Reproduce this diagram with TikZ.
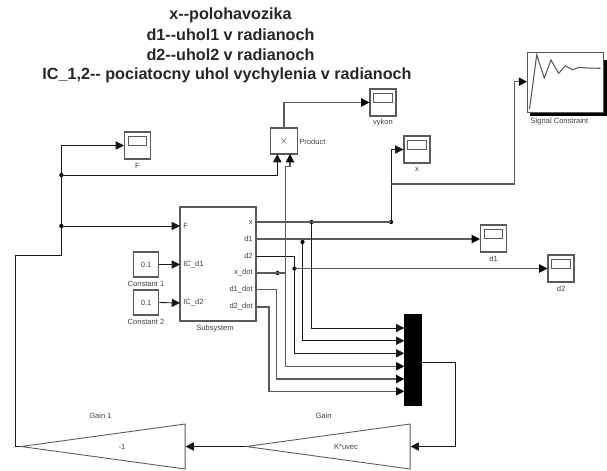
\documentclass[tikz,border=0pt]{standalone}
\usepackage{fontspec}
\setmainfont{Liberation Sans}
\usetikzlibrary{arrows.meta,shapes.geometric,positioning,calc}
\definecolor{simgray}{RGB}{90,90,90}

\begin{document}
\begin{tikzpicture}[
  x=0.02cm, y=-0.02cm,
  every node/.style={font=\fontsize{4.3}{5}\selectfont, text=black!75, inner sep=0pt},
  titletext/.style={font=\fontsize{9.2}{10}\selectfont\bfseries, text=black!85},
  blockbox/.style={draw=simgray, line width=0.6pt, fill=white},
  scopebox/.style={blockbox, minimum width=0.52cm, minimum height=0.54cm},
  screenbox/.style={draw=simgray, line width=0.5pt, minimum width=0.37cm, minimum height=0.19cm},
  wire/.style={draw=black!90, line width=0.5pt, -{Triangle[length=4.7pt,width=4.7pt]}},
  greyline/.style={draw=simgray, line width=0.6pt},
  greywire/.style={greyline, -{Triangle[length=4.7pt,width=4.7pt,fill=black,color=black]}},
  dotnode/.style={circle, fill=black, minimum size=2.4pt},
  gainbox/.style={draw=simgray, line width=0.5pt, isosceles triangle, isosceles triangle stretches,
                  shape border rotate=180, minimum width=0.9cm, minimum height=3.28cm, anchor=apex},
]
\useasboundingbox (0,0) rectangle (607,470);

%% Title lines
\foreach \xi/\yi/\lab/\nm in {230.5/15/x-{}-polohavozika/ta, 230.5/35/d1-{}-uhol1 v radianoch/tb, 230.5/55/d2-{}-uhol2 v radianoch/tc, 227/75/{IC\_1,2-{}- pociatocny uhol vychylenia v radianoch}/td}{
  \node[titletext] (\nm) at (\xi, \yi) {\lab};
}

%% Scopes: name/x/y
\foreach \nm/\xi/\yi in {F/137.5/145.5, vykon/383/102.5, x/417/149.5, d1/493.5/238.5, d2/561/268.5}{
  \node[scopebox] (sc\nm) at (\xi, \yi) {};
  \node[screenbox] (scr\nm) at (\xi, \yi-4.5) {};
  \node (lab\nm) at (\xi, \yi+20) {\nm};
}

%% Signal Constraint block with shadow
\fill[black] (530,60) rectangle (607,116);
\node[blockbox, anchor=north west, minimum width=1.52cm, minimum height=1.2cm] (sig) at (527,52) {};
\draw[simgray, line width=0.6pt] (529.5,109) -- (536.7,55) -- (544.3,78) -- (551,60) -- (558.7,73.3)
  -- (565.3,65.7) -- (572.3,69.7) -- (579.3,67.3) -- (586.7,68) -- (600.7,68.3);
\node (labsig) at (559.5, 122) {Signal Constraint};

%% Product
\node[blockbox, minimum width=0.53cm, minimum height=0.52cm] (prod) at (284,141) {$\times$};
\node[anchor=west] (labprod) at (299, 142) {Product};
\coordinate (prodl) at (277.3,154);
\coordinate (prodr) at (290,154);

%% Subsystem and its ports
\node[blockbox, minimum width=1.52cm, minimum height=2.28cm] (sub) at (218,264) {};
\node (labsub) at (215, 329) {Subsystem};
\foreach \nm/\yi/\lab in {pF/226/F, pa/264.5/IC\_d1, pb/303/IC\_d2}{
  \coordinate (\nm) at (180, \yi);
  \node[anchor=west] (lab\nm) at (183, \yi) {\lab};
}
\foreach \nm/\yi/\lab in {ox/222/x, oa/239/d1, ob/256/d2, oc/273/x\_dot, od/289.5/d1\_dot, oe/307/d2\_dot}{
  \coordinate (\nm) at (256, \yi);
  \node[anchor=east] (lab\nm) at (253, \yi) {\lab};
}

%% Constants
\node[blockbox, minimum width=0.51cm, minimum height=0.5cm] (conA) at (146,264.5) {0.1};
\node (labconA) at (146, 284) {Constant 1};
\node[blockbox, minimum width=0.51cm, minimum height=0.5cm] (conB) at (146,302.5) {0.1};
\node (labconB) at (146, 322) {Constant 2};

%% Mux
\node[fill=black, minimum width=0.35cm, minimum height=1.83cm] (mux) at (413,360) {};
\foreach \nm/\yi in {ma/328, mb/340.7, mc/353.3, md/366.3, me/379, mf/391.3}{
  \coordinate (\nm) at (404.3, \yi);
}

%% Gains
\node[gainbox] (gain) at (245,446.5) {};
\node (labgain) at (323.5, 416) {Gain};
\node (txtgain) at (346, 447) {K*uvec};
\node[gainbox] (gaina) at (20,446.5) {};
\node (labgaina) at (100.5, 416) {Gain 1};
\node (txtgaina) at (122, 447) {-1};

%% Junctions
\node[dotnode] (jF) at (61.3,226) {};
\node[dotnode] (jP) at (61.3,175) {};
\node[dotnode] (jx) at (311.5,222) {};
\node[dotnode] (jX) at (391,222) {};
\node[dotnode] (ja) at (302.5,242) {};
\node[dotnode] (jb) at (294.5,268.5) {};
\node[dotnode] (jc) at (277.5,273) {};

\coordinate (up) at (285.7,273);
\coordinate (sA) at (391,184);
\coordinate (sB) at (514.5,184);
\coordinate (sC) at (527,81.7);
\coordinate (jog) at (285.7,166.7);
\coordinate (lA) at (15,446.5);
\coordinate (lB) at (15,255.7);
\coordinate (lC) at (61.3,255.7);
\coordinate (gout) at (455.7,362);
\coordinate (bd) at (276.7,289.5);
\coordinate (be) at (269,307);

%% Feedback path
\draw[wire] (gain.apex) -- (gaina.east);
\draw[wire] (mux.east |- gout) -- (gout) |- (gain.east);
\draw[black!90, line width=0.5pt] (gaina.apex) -- (lA) -- (lB) -- (lC) -- (jF.center);
\draw[wire] (jF.center) -- (pF);
\draw[wire] (jF.center) |- (scF.west);
\draw[wire] (jP.center) -| (prodl);

%% Constants to subsystem
\draw[wire] (conA.east) -- (pa);
\draw[wire] (conB.east) -- (pb);

%% Subsystem outputs
\draw[wire] (jX.center) |- (scx.west);
\draw[greyline] (ox) -- (jX.center);
\draw[greywire] (sA) -- (sB) |- (sC);
\draw[greywire] (oa) -- (scd1.west |- oa);
\draw[wire] (ob) -| (jb.center) |- (mc);
\draw[greywire] (jb.center) -- (scd2.west |- jb);
\draw[greyline] (oc) -- (up);
\draw[greywire] (up) |- (md);
\draw[greywire] (up) -- (jog) -| (prodr);
\draw[greywire] (od) -- (bd) |- (me);
\draw[greywire] (oe) -- (be) |- (mf);
\draw[wire] (jx.center) |- (ma);
\draw[wire] (ja.center) |- (mb);
\draw[greywire] (prod.north) |- (scvykon.west);

\end{tikzpicture}
\end{document}
